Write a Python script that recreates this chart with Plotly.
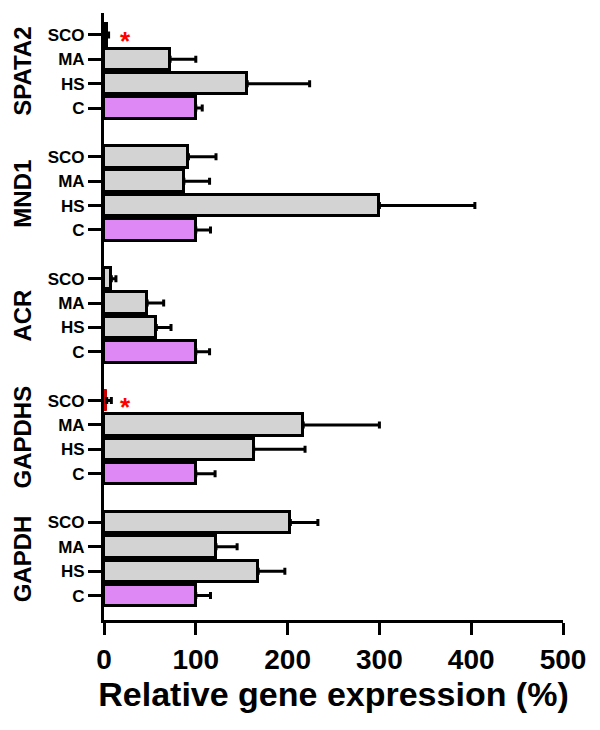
import plotly.graph_objects as go

genes = ["SPATA2", "MND1", "ACR", "GAPDHS", "GAPDH"]          # top to bottom
conditions = ["C", "HS", "MA", "SCO"]                           # bottom to top within a group

# values (%) per gene, order C, HS, MA, SCO
values = {
    "SPATA2": [100, 156, 72, 3],
    "MND1":   [100, 300, 87, 92],
    "ACR":    [100, 57, 47, 8],
    "GAPDHS": [100, 163, 217, 3],
    "GAPDH":  [100, 168, 122, 203],
}
errors = {
    "SPATA2": [7, 68, 28, 2],
    "MND1":   [16, 104, 28, 30],
    "ACR":    [15, 16, 18, 5],
    "GAPDHS": [21, 56, 83, 5],
    "GAPDH":  [16, 29, 23, 30],
}
significant = {"SPATA2": "SCO", "GAPDHS": "SCO"}
x_ticks = [0, 100, 200, 300, 400, 500]

C_COLOR = "#dd88f4"
G_COLOR = "#d3d3d3"
FONT = "Liberation Sans, Arial, sans-serif"

ys, xs, es, cols, lcols, lwids, tickvals, ticktext = [], [], [], [], [], [], [], []
ngroups = len(genes)
group_centers = {}
for gi, g in enumerate(genes):
    base = (ngroups - 1 - gi) * 5
    group_centers[g] = base + 1.5
    for ci, c in enumerate(conditions):
        y = base + ci
        ys.append(y)
        xs.append(values[g][ci])
        es.append(errors[g][ci])
        red = (g == "GAPDHS" and c == "SCO")
        cols.append("#cc0000" if red else (C_COLOR if c == "C" else G_COLOR))
        lcols.append("#cc0000" if red else "black")
        lwids.append(1 if red else 3)
        tickvals.append(y)
        ticktext.append("<b>%s</b>" % c)

fig = go.Figure()
fig.add_trace(go.Bar(
    x=xs, y=ys, orientation="h", width=0.88,
    marker=dict(color=cols, line=dict(color=lcols, width=lwids)),
    error_x=dict(type="data", array=es, arrayminus=[0] * len(es), symmetric=False,
                 color="black", thickness=3, width=3.5),
    showlegend=False,
))

annotations = []
for g in genes:
    annotations.append(dict(
        x=-0.178, xref="paper", y=group_centers[g], yref="y",
        text="<b>%s</b>" % g, textangle=-90, showarrow=False,
        font=dict(family=FONT, size=24, color="black"),
        xanchor="center", yanchor="middle"))
for g, c in significant.items():
    gi = genes.index(g)
    y = (ngroups - 1 - gi) * 5 + conditions.index(c)
    annotations.append(dict(
        x=23, y=y, xref="x", yref="y", text="<b>*</b>", showarrow=False,
        font=dict(family=FONT, size=26, color="red"), yshift=-6))

fig.update_layout(
    width=592, height=722,
    margin=dict(l=96, r=37, t=5, b=110),
    plot_bgcolor="white", paper_bgcolor="white",
    bargap=0,
    annotations=annotations,
    xaxis=dict(
        range=[0, 500], tickvals=x_ticks, ticktext=["<b>%d</b>" % v for v in x_ticks],
        showline=True, linecolor="black", linewidth=3,
        ticks="outside", ticklen=12, tickwidth=3, tickcolor="black",
        showgrid=False, zeroline=False,
        tickfont=dict(family=FONT, size=28, color="black"),
        title=dict(text="<b>Relative gene expression (%)</b>",
                   font=dict(family=FONT, size=34, color="black"), standoff=6),
    ),
    yaxis=dict(
        range=[-1, 23.9], tickvals=tickvals, ticktext=ticktext,
        showline=True, linecolor="black", linewidth=3,
        ticks="outside", ticklen=13, tickwidth=3, tickcolor="black",
        showgrid=False, zeroline=False,
        tickfont=dict(family=FONT, size=17, color="black"),
    ),
)

fig.write_html("out.html")
